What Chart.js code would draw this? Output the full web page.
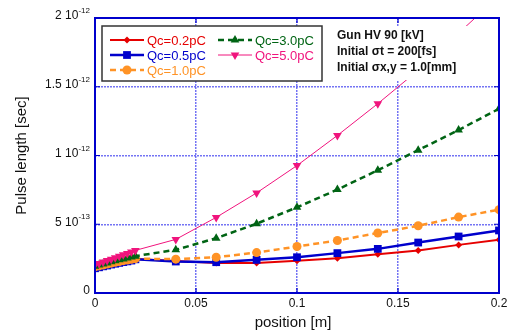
<!DOCTYPE html>
<html><head><meta charset="utf-8">
<script src="https://cdn.jsdelivr.net/npm/chart.js@4/dist/chart.umd.min.js"></script>
<style>html,body{margin:0;padding:0;background:#fff}#w{width:511px;height:333px}</style>
</head><body><div id="w"><canvas id="c" width="511" height="333"></canvas></div>
<script>
// positions [m]
const positions = [0,0.002,0.004,0.006,0.008,0.010,0.012,0.014,0.016,0.018,0.020,0.04,0.06,0.08,0.10,0.12,0.14,0.16,0.18,0.20];
// pulse length in units of 1e-12 s
const qc02 = [0.190,0.196,0.203,0.209,0.215,0.221,0.227,0.232,0.238,0.243,0.248,0.232,0.218,0.218,0.234,0.253,0.282,0.309,0.350,0.387];
const qc05 = [0.180,0.187,0.194,0.200,0.207,0.213,0.219,0.225,0.230,0.236,0.245,0.229,0.224,0.241,0.260,0.290,0.321,0.367,0.411,0.455];
const qc10 = [0.190,0.197,0.204,0.211,0.217,0.223,0.229,0.235,0.240,0.245,0.250,0.246,0.260,0.294,0.338,0.382,0.436,0.489,0.552,0.606];
const qc30 = [0.195,0.203,0.211,0.219,0.227,0.234,0.241,0.248,0.255,0.262,0.268,0.314,0.399,0.504,0.623,0.752,0.893,1.039,1.185,1.340];
const qc50 = [0.205,0.215,0.226,0.236,0.246,0.256,0.267,0.278,0.288,0.299,0.310,0.390,0.550,0.728,0.927,1.146,1.377,1.620,1.890,2.160];
const xTicks = [0,0.05,0.1,0.15,0.2];
const xTickLabels = ['0','0.05','0.1','0.15','0.2'];
const yTicks = [0,0.5,1,1.5,2];
const yTickLabels = [['0',''],['5 10','-13'],['1 10','-12'],['1.5 10','-12'],['2 10','-12']];
const seriesNames = ['Qc=0.2pC','Qc=0.5pC','Qc=1.0pC','Qc=3.0pC','Qc=5.0pC'];
const infoLines = ['Gun HV 90 [kV]','Initial \u03c3t = 200[fs]','Initial \u03c3x,y = 1.0[mm]'];

const pts = a => a.map((v,i)=>({x:positions[i],y:v}));
const RED='#e60000', BLUE='#0000cc', ORANGE='#ff9326', GREEN='#006414', PINK='#f0147d';

const datasets = [
 {label:seriesNames[0],data:pts(qc02),borderColor:RED,backgroundColor:RED,borderWidth:2,pointStyle:'rectRot',pointRadius:3.5,order:4},
 {label:seriesNames[1],data:pts(qc05),borderColor:BLUE,backgroundColor:BLUE,borderWidth:2.5,pointStyle:'rect',pointRadius:5.5,order:3},
 {label:seriesNames[2],data:pts(qc10),borderColor:ORANGE,backgroundColor:ORANGE,borderWidth:2.5,borderDash:[6,4],pointStyle:'circle',pointRadius:4.5,order:2},
 {label:seriesNames[3],data:pts(qc30),borderColor:GREEN,backgroundColor:GREEN,borderWidth:2.5,borderDash:[6,4],pointStyle:'triangle',pointRadius:5,order:1},
 {label:seriesNames[4],data:pts(qc50),borderColor:PINK,backgroundColor:PINK,borderWidth:1,pointStyle:'triangle',rotation:180,pointRadius:5,order:0}
];
datasets.forEach(d=>{d.pointBorderWidth=0;d.tension=0;d.fill=false;d.clip=1;});

const deco = {
 id:'deco',
 afterDraw(chart){
  const ctx=chart.ctx, a=chart.chartArea, xs=chart.scales.x, ys=chart.scales.y;
  ctx.save();
  // info text background
  ctx.fillStyle='#fff'; ctx.fillRect(a.left+233,a.top+8,144,54);
  // frame
  ctx.strokeStyle=BLUE; ctx.lineWidth=2; ctx.setLineDash([]);
  ctx.strokeRect(a.left,a.top,a.right-a.left,a.bottom-a.top);
  // inward ticks
  ctx.lineWidth=1.2;
  xTicks.forEach(v=>{const x=xs.getPixelForValue(v);ctx.beginPath();ctx.moveTo(x,a.bottom);ctx.lineTo(x,a.bottom-5);ctx.moveTo(x,a.top);ctx.lineTo(x,a.top+5);ctx.stroke();});
  yTicks.forEach(v=>{const y=ys.getPixelForValue(v);ctx.beginPath();ctx.moveTo(a.left,y);ctx.lineTo(a.left+5,y);ctx.moveTo(a.right,y);ctx.lineTo(a.right-5,y);ctx.stroke();});
  // tick labels
  ctx.fillStyle='#111';
  ctx.font='12px "Liberation Sans", Arial, sans-serif';
  ctx.textAlign='center'; ctx.textBaseline='middle';
  xTicks.forEach((v,i)=>ctx.fillText(xTickLabels[i],xs.getPixelForValue(v),a.bottom+11));
  yTicks.forEach((v,i)=>{
    const y=ys.getPixelForValue(v)-2; const [m,e]=yTickLabels[i];
    ctx.font='8px "Liberation Sans", Arial, sans-serif';
    const ew=e?ctx.measureText(e).width:0;
    const right=a.left-5;
    ctx.textAlign='right';
    if(e){ctx.fillText(e,right,y-5);}
    ctx.font='12px "Liberation Sans", Arial, sans-serif';
    ctx.fillText(m,right-ew,y);
  });
  // axis titles
  ctx.font='15px "Liberation Sans", Arial, sans-serif';
  ctx.textAlign='center';
  ctx.fillText('position [m]',(a.left+a.right)/2-4,a.bottom+30);
  ctx.save(); ctx.translate(22,(a.top+a.bottom)/2); ctx.rotate(-Math.PI/2);
  ctx.fillText('Pulse length [sec]',0,0); ctx.restore();
  // legend box
  const lx=a.left+7, ly=a.top+8, lw=220, lh=55;
  ctx.fillStyle='#fff'; ctx.fillRect(lx,ly,lw,lh);
  ctx.strokeStyle='#333'; ctx.lineWidth=1.5; ctx.strokeRect(lx,ly,lw,lh);
  const slots=[[lx+8,ly+14],[lx+8,ly+29],[lx+8,ly+44],[lx+116,ly+14],[lx+116,ly+29]];
  ctx.font='13px "Liberation Sans", Arial, sans-serif'; ctx.textAlign='left'; ctx.textBaseline='middle';
  chart.data.datasets.forEach((d,i)=>{
    const [sx,sy]=slots[i];
    ctx.strokeStyle=d.borderColor; ctx.lineWidth=d.borderWidth; ctx.setLineDash(d.borderDash||[]);
    ctx.beginPath(); ctx.moveTo(sx,sy); ctx.lineTo(sx+34,sy); ctx.stroke(); ctx.setLineDash([]);
    ctx.fillStyle=d.backgroundColor;
    Chart.helpers.drawPoint(ctx,{pointStyle:d.pointStyle,radius:d.pointRadius,rotation:d.rotation||0,borderWidth:0},sx+17,sy);
    ctx.fillStyle=d.borderColor; ctx.fillText(d.label,sx+37,sy+1);
  });
  // info text
  ctx.fillStyle='#111'; ctx.font='bold 12px "Liberation Sans", Arial, sans-serif';
  infoLines.forEach((t,i)=>ctx.fillText(t,a.left+242,a.top+18+i*16));
  ctx.restore();
 }
};

new Chart(document.getElementById('c'),{
 type:'line',
 data:{datasets},
 options:{
  responsive:false, animation:false, events:[],
  layout:{padding:{left:95,right:12,top:18,bottom:40}},
  plugins:{legend:{display:false},tooltip:{enabled:false}},
  scales:{
   x:{type:'linear',min:0,max:0.2,
      afterBuildTicks:s=>{s.ticks=xTicks.map(v=>({value:v}));},
      ticks:{display:false},
      grid:{color:'rgba(70,70,240,0.75)',lineWidth:1.5,drawTicks:false},
      border:{display:false,dash:[2,1]}},
   y:{type:'linear',min:0,max:2,
      afterBuildTicks:s=>{s.ticks=yTicks.map(v=>({value:v}));},
      ticks:{display:false},
      grid:{color:'rgba(70,70,240,0.75)',lineWidth:1.5,drawTicks:false},
      border:{display:false,dash:[2,1]}}
  }
 },
 plugins:[deco]
});
</script></body></html>
